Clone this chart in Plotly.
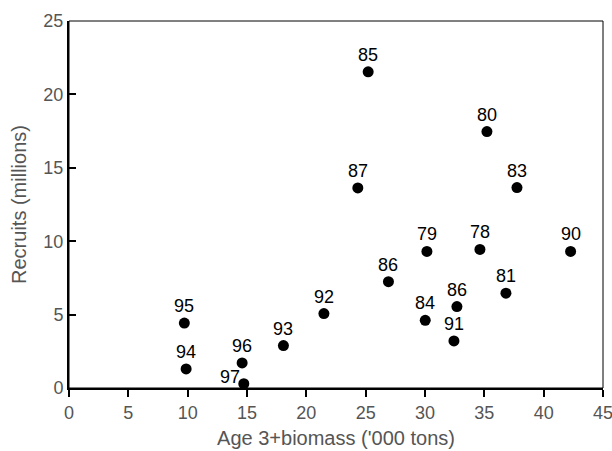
import plotly.graph_objects as go

biomass = [9.72, 9.87, 14.59, 14.73, 18.07, 21.48, 25.21, 24.34, 26.92, 30.16,
           30.02, 32.44, 32.69, 34.63, 35.22, 37.75, 36.82, 42.27]
recruits = [4.42, 1.30, 1.71, 0.29, 2.89, 5.07, 21.54, 13.63, 7.24, 9.30,
            4.61, 3.21, 5.55, 9.44, 17.47, 13.65, 6.46, 9.30]
years = ["95", "94", "96", "97", "93", "92", "85", "87", "86", "79",
         "84", "91", "86", "78", "80", "83", "81", "90"]
x_ticks = [0, 5, 10, 15, 20, 25, 30, 35, 40, 45]
y_ticks = [0, 5, 10, 15, 20, 25]

FONT = "Liberation Sans, Arial, Helvetica, sans-serif"

fig = go.Figure()
fig.add_trace(go.Scatter(
    x=biomass, y=recruits, mode="markers",
    marker=dict(size=11, color="black"),
    hoverinfo="skip", showlegend=False,
))

for xv, yv, lab in zip(biomass, recruits, years):
    if lab == "97":
        xs, ys = -14, 7
    else:
        xs, ys = 0, 17
    fig.add_annotation(x=xv, y=yv, text=lab, showarrow=False,
                       xshift=xs, yshift=ys,
                       font=dict(family=FONT, size=18, color="black"))

fig.add_shape(type="rect", xref="paper", yref="paper", x0=0, y0=0, x1=1, y1=1,
              line=dict(color="black", width=1), layer="above")

fig.update_layout(
    width=612, height=451,
    margin=dict(l=69, r=9, t=21, b=63, autoexpand=False),
    paper_bgcolor="white", plot_bgcolor="white",
    font=dict(family=FONT, size=18, color="#555555"),
    xaxis=dict(
        range=[0, 45], tickvals=x_ticks, ticks="outside", ticklen=7,
        tickcolor="black", tickwidth=1.5,
        showline=True, linecolor="black", linewidth=2,
        showgrid=False, zeroline=False, automargin=False,
        ticklabeloverflow="allow",
        tickfont=dict(family=FONT, size=18, color="#555555"),
        title=dict(text="Age 3+biomass ('000 tons)", standoff=9,
                   font=dict(family=FONT, size=20, color="#555555")),
    ),
    yaxis=dict(
        range=[0, 25], tickvals=y_ticks, ticks="inside", ticklen=7,
        tickcolor="black", tickwidth=1.5,
        showline=True, linecolor="black", linewidth=2,
        showgrid=False, zeroline=False, automargin=False,
        ticklabeloverflow="allow",
        tickfont=dict(family=FONT, size=18, color="#555555"),
        title=dict(text="Recruits (millions)", standoff=11,
                   font=dict(family=FONT, size=20, color="#555555")),
    ),
)

fig.write_html("out.html", config={"displayModeBar": False},
               post_script="document.body.style.margin='0';")
